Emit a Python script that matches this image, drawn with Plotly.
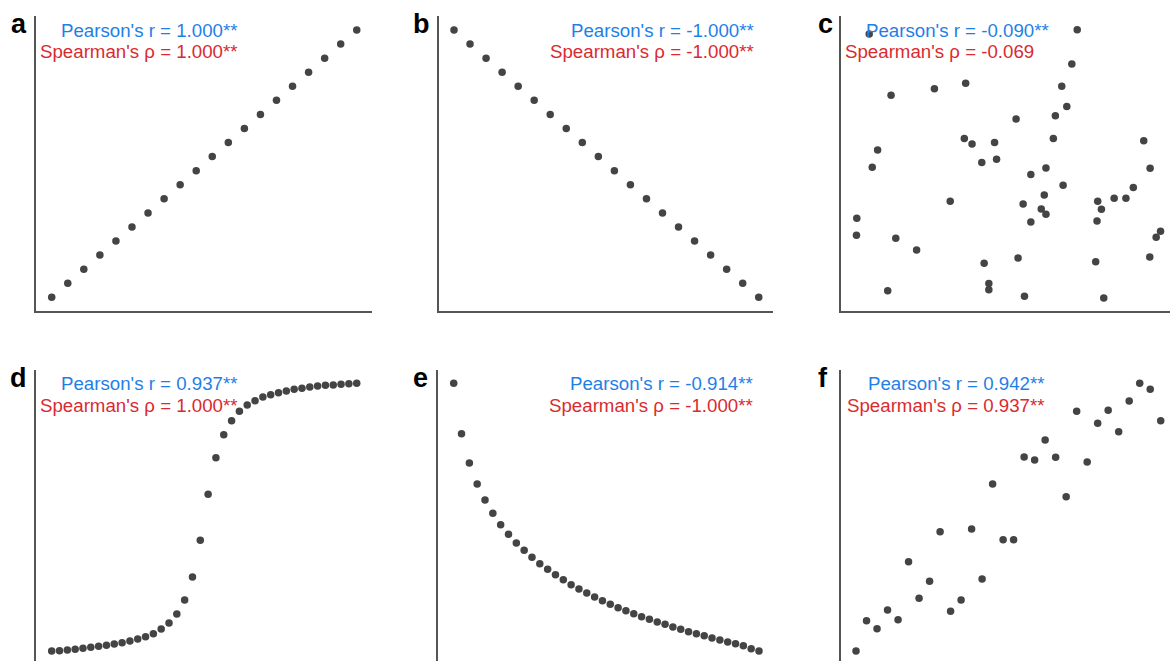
import plotly.graph_objects as go

W, H = 1170, 661

# ---------------- data ----------------
a_x = [1, 2, 3, 4, 5, 6, 7, 8, 9, 10, 11, 12, 13, 14, 15, 16, 17, 18, 19, 20]
a_y = [1, 2, 3, 4, 5, 6, 7, 8, 9, 10, 11, 12, 13, 14, 15, 16, 17, 18, 19, 20]

b_x = [1, 2, 3, 4, 5, 6, 7, 8, 9, 10, 11, 12, 13, 14, 15, 16, 17, 18, 19, 20]
b_y = [20, 19, 18, 17, 16, 15, 14, 13, 12, 11, 10, 9, 8, 7, 6, 5, 4, 3, 2, 1]

c_x = [0.84, 7.03, 1.49, 2.78, 3.71, 6.87, 6.57, 6.72, 6.38, 5.21,
       1.09, 0.93, 3.67, 3.90, 4.57, 6.32, 9.01, 4.19, 4.63, 6.10,
       9.20, 5.65, 6.61, 8.70, 3.25, 6.05, 5.42, 7.64, 8.13, 8.48,
       5.96, 6.10, 7.75, 0.47, 5.65, 7.62, 0.46, 1.63, 9.51, 9.38,
       2.25, 4.26, 5.27, 7.58, 9.19, 4.40, 4.40, 1.39, 5.46, 7.82]
c_y = [9.39, 9.53, 7.31, 7.53, 7.72, 8.37, 7.62, 6.93, 6.62, 6.51,
       5.46, 4.87, 5.85, 5.66, 5.71, 5.85, 5.77, 5.03, 5.14, 4.85,
       4.84, 4.63, 4.26, 4.19, 3.72, 3.93, 3.63, 3.72, 3.82, 3.82,
       3.46, 3.28, 3.45, 3.14, 3.02, 3.05, 2.57, 2.47, 2.70, 2.50,
       2.07, 1.62, 1.80, 1.67, 1.83, 0.93, 0.72, 0.69, 0.50, 0.44]

d_x = list(range(1, 41))
d_y = [0.00, 0.12, 0.37, 0.62, 1.00, 1.37, 1.74, 2.12, 2.62, 3.11,
       3.74, 4.48, 5.35, 6.48, 8.22, 10.46, 13.82, 19.05, 27.65, 41.34,
       58.53, 72.23, 80.82, 86.05, 89.54, 91.91, 93.52, 94.89, 95.77, 96.51,
       97.14, 97.76, 98.13, 98.63, 99.00, 99.25, 99.38, 99.63, 99.88, 100.0]

e_x = list(range(1, 41))
e_y = [100.0, 81.20, 70.24, 62.39, 56.41, 51.43, 47.20, 43.59, 40.35, 37.61,
       34.99, 32.63, 30.51, 28.52, 26.65, 24.78, 23.16, 21.67, 20.17, 18.80,
       17.43, 16.19, 15.07, 13.95, 12.83, 11.83, 10.83, 9.96, 8.97, 8.09,
       7.22, 6.48, 5.73, 4.86, 4.11, 3.36, 2.74, 1.99, 0.87, 0.00]

f_x = list(range(1, 31))
f_y = [0.00, 11.33, 8.34, 15.32, 11.71, 33.37, 19.68, 26.03, 44.58, 14.82,
       19.05, 45.58, 26.90, 62.39, 41.59, 41.59, 72.48, 71.36, 78.83, 72.35,
       57.66, 89.54, 70.61, 85.06, 89.91, 81.94, 93.40, 100.0, 97.76, 86.05]

panel_labels = ["a", "b", "c", "d", "e", "f"]
pearson = ["1.000**", "-1.000**", "-0.090**", "0.937**", "-0.914**", "0.942**"]
spearman = ["1.000**", "-1.000**", "-0.069", "1.000**", "-1.000**", "0.937**"]

# ---------------- layout (pixel boxes) ----------------
# box = (left, right, top, bottom) in pixels, xr/yr = data range across the box
panels = [
    dict(x=a_x, y=a_y, box=(36, 372, 16, 311), xr=(0.022, 20.95), yr=(0.026, 20.995),
         lab_x=9, lab_y=24, txt_r=240, txt_y=30),
    dict(x=b_x, y=b_y, box=(439, 773, 16, 311), xr=(0.065, 20.89), yr=(0.026, 20.995),
         lab_x=411, lab_y=24, txt_r=756, txt_y=30),
    dict(x=c_x, y=c_y, box=(841, 1177, 16, 311), xr=(0.0, 10.0), yr=(0.0, 10.0),
         lab_x=816, lab_y=24, txt_r=1051, txt_y=30),
    dict(x=d_x, y=d_y, box=(36, 372, 370, 665), xr=(-1.008, 41.956), yr=(-5.23, 104.97),
         lab_x=8, lab_y=378, txt_r=240, txt_y=383.5),
    dict(x=e_x, y=e_y, box=(438, 772, 370, 665), xr=(-1.0055, 41.66), yr=(-5.23, 104.97),
         lab_x=411, lab_y=378, txt_r=755, txt_y=383.5),
    dict(x=f_x, y=f_y, box=(841, 1177, 370, 665), xr=(-0.43, 31.55), yr=(-5.23, 104.97),
         lab_x=816, lab_y=378, txt_r=1047, txt_y=383.5),
]

BLUE = "#1f7fe8"
RED = "#da2a30"
DOT = "#444444"
AXIS = "#555555"
FONT = "Liberation Sans, Arial, Helvetica, sans-serif"
LINE_GAP = 21.5
GHOST = "<span style='color:rgba(0,0,0,0)'>**</span>"

fig = go.Figure()
annotations = []

for i, p in enumerate(panels):
    x0, x1, y0, y1 = p["box"]
    cx0, cx1 = max(x0, 0), min(x1, W)
    cy0, cy1 = max(y0, 0), min(y1, H)
    xr0, xr1 = p["xr"]
    yr0, yr1 = p["yr"]
    xlo = xr0 + (xr1 - xr0) * (cx0 - x0) / (x1 - x0)
    xhi = xr0 + (xr1 - xr0) * (cx1 - x0) / (x1 - x0)
    ylo = yr0 + (yr1 - yr0) * (y1 - cy1) / (y1 - y0)
    yhi = yr1 - (yr1 - yr0) * (cy0 - y0) / (y1 - y0)

    xa = "xaxis" if i == 0 else f"xaxis{i+1}"
    ya = "yaxis" if i == 0 else f"yaxis{i+1}"
    xref = "x" if i == 0 else f"x{i+1}"
    yref = "y" if i == 0 else f"y{i+1}"

    fig.add_trace(go.Scatter(
        x=p["x"], y=p["y"], mode="markers", xaxis=xref, yaxis=yref,
        marker=dict(color=DOT, size=7.5, line=dict(width=0)),
        hoverinfo="x+y", showlegend=False,
    ))

    fig.update_layout({
        xa: dict(domain=[cx0 / W, cx1 / W], range=[xlo, xhi], anchor=yref,
                 showline=(cy1 == y1), linecolor=AXIS, linewidth=1.5,
                 showgrid=False, zeroline=False, showticklabels=False, ticks=""),
        ya: dict(domain=[(H - cy1) / H, (H - cy0) / H], range=[ylo, yhi], anchor=xref,
                 showline=True, linecolor=AXIS, linewidth=1.5,
                 showgrid=False, zeroline=False, showticklabels=False, ticks=""),
    })

    sp_txt = f"Spearman's ρ = {spearman[i]}"
    if not spearman[i].endswith("**"):
        sp_txt += GHOST

    annotations.append(dict(
        text=f"<b>{panel_labels[i]}</b>", xref="paper", yref="paper",
        x=p["lab_x"] / W, y=1 - p["lab_y"] / H, xanchor="left", yanchor="middle",
        showarrow=False, font=dict(family=FONT, size=27, color="#000000"),
    ))
    annotations.append(dict(
        text=f"Pearson's r = {pearson[i]}", xref="paper", yref="paper",
        x=p["txt_r"] / W, y=1 - p["txt_y"] / H, xanchor="right", yanchor="middle",
        showarrow=False, font=dict(family=FONT, size=18.7, color=BLUE),
    ))
    annotations.append(dict(
        text=sp_txt, xref="paper", yref="paper",
        x=p["txt_r"] / W, y=1 - (p["txt_y"] + LINE_GAP) / H, xanchor="right", yanchor="middle",
        showarrow=False, font=dict(family=FONT, size=18.7, color=RED),
    ))

fig.update_layout(
    width=W, height=H, margin=dict(l=0, r=0, t=0, b=0),
    paper_bgcolor="white", plot_bgcolor="white",
    showlegend=False, annotations=annotations,
)

fig.write_html("out.html")
